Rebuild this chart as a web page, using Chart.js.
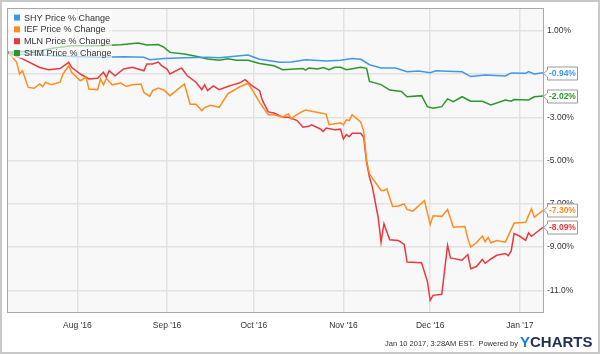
<!DOCTYPE html>
<html>
<head>
<meta charset="utf-8">
<script src="https://cdn.jsdelivr.net/npm/chart.js@4"></script>
<style>
  html, body { margin: 0; padding: 0; background: #fff; }
  canvas { display: block; }
</style>
</head>
<body>
<canvas id="chart" width="600" height="354"></canvas>
<script>
// days counted from Jul 8 2016
const xTickDays = [24, 55, 85, 116, 146, 177];
const xTickLabels = ["Aug '16", "Sep '16", "Oct '16", "Nov '16", "Dec '16", "Jan '17"];
const yTickValues = [1, -1, -3, -5, -7, -9, -11];
const yTickLabels = ['1.00%', '-1.00%', '-3.00%', '-5.00%', '-7.00%', '-9.00%', '-11.0%'];

const seriesNames = ['SHY Price % Change', 'IEF Price % Change', 'MLN Price % Change', 'SHM Price % Change'];
const seriesColors = ['#3d98ec', '#ff8c1f', '#e8393e', '#2a972a'];

const shyDays = [0, 4, 11, 18, 25, 32, 40, 47, 49, 54, 61, 69, 73, 83, 87, 94, 98, 103, 110, 115, 119, 122, 125, 129, 134, 138, 142, 146, 148, 152, 157, 160, 165, 172, 174, 179, 180, 182, 185];
const shyValues = [0, -0.08, -0.12, -0.18, -0.2, -0.22, -0.2, -0.23, -0.34, -0.28, -0.25, -0.23, -0.25, -0.12, -0.32, -0.46, -0.45, -0.34, -0.4, -0.36, -0.28, -0.32, -0.57, -0.72, -0.72, -0.89, -0.86, -0.94, -0.85, -0.87, -0.9, -1.12, -1.05, -1.09, -0.95, -0.97, -0.89, -1.0, -0.94];

const iefDays = [0, 1, 3, 4, 5, 7, 9, 11, 12, 13, 15, 18, 19, 21, 22, 25, 27, 28, 31, 32, 33, 34, 36, 39, 41, 43, 46, 47, 49, 50, 52, 54, 56, 61, 63, 65, 67, 68, 70, 73, 76, 80, 83, 85, 87, 90, 92, 95, 96, 97, 98, 99, 102, 103, 105, 110, 111, 115, 116, 117, 118, 119, 122, 123, 124, 125, 129, 130, 131, 133, 135, 137, 138, 140, 144, 146, 147, 150, 152, 154, 158, 159, 160, 162, 164, 165, 166, 167, 169, 172, 175, 177, 179, 181, 182, 185];
const iefValues = [0, -0.15, -0.46, -1.0, -0.85, -1.62, -1.66, -1.46, -1.58, -1.38, -1.5, -1.38, -1.0, -0.62, -0.92, -1.31, -1.15, -1.69, -1.72, -1.23, -1.5, -1.2, -1.5, -1.42, -1.58, -1.5, -1.46, -1.85, -2.03, -1.77, -1.65, -1.75, -2.0, -1.46, -2.4, -2.4, -2.69, -2.55, -2.45, -2.54, -1.92, -1.6, -1.43, -1.85, -2.31, -2.88, -2.88, -3.0, -2.9, -2.85, -3.08, -2.95, -2.72, -2.66, -2.72, -2.85, -3.34, -3.25, -3.35, -3.12, -3.15, -2.88, -3.23, -3.65, -5.0, -5.62, -6.38, -6.38, -6.31, -7.12, -7.1, -7.0, -7.26, -7.34, -6.85, -7.95, -7.55, -7.58, -7.26, -8.08, -8.05, -8.61, -9.0, -8.8, -8.49, -8.75, -8.55, -8.8, -8.7, -8.77, -7.89, -7.87, -7.85, -7.23, -7.62, -7.3];

const mlnDays = [0, 5, 11, 14, 18, 21, 22, 25, 28, 31, 33, 34, 35, 37, 40, 43, 47, 48, 50, 52, 53, 55, 56, 60, 62, 65, 67, 68, 69, 71, 73, 76, 78, 80, 82, 84, 87, 88, 90, 92, 95, 97, 100, 102, 104, 105, 108, 109, 110, 113, 115, 116, 117, 118, 119, 122, 123, 124, 125, 126, 128, 129, 130, 132, 135, 137, 138, 143, 145, 146, 147, 150, 152, 153, 157, 159, 160, 162, 164, 165, 167, 169, 172, 173, 174, 175, 177, 179, 180, 181, 185];
const mlnValues = [0, -0.3, -0.7, -0.8, -0.75, -0.46, -0.69, -1.0, -1.23, -1.2, -0.92, -1.15, -0.85, -1.08, -0.77, -0.69, -0.85, -0.54, -0.54, -0.45, -0.6, -0.77, -1.0, -0.72, -1.08, -1.38, -1.72, -1.5, -1.77, -1.55, -1.72, -1.58, -1.49, -1.42, -1.26, -1.5, -1.77, -2.23, -2.75, -2.8, -3.0, -3.0, -3.15, -3.46, -3.42, -3.35, -3.54, -3.65, -3.5, -3.58, -3.55, -4.0, -3.8, -3.9, -3.74, -3.74, -3.92, -5.08, -5.77, -6.23, -7.62, -8.77, -7.92, -8.66, -8.7, -8.88, -9.69, -9.72, -10.57, -11.46, -11.23, -11.18, -8.92, -9.5, -9.61, -9.34, -10.0, -9.9, -9.57, -9.75, -9.55, -9.38, -9.3, -9.4, -9.18, -8.38, -8.5, -8.69, -8.35, -8.5, -8.09];

const shmDays = [0, 11, 16, 22, 31, 39, 45, 48, 52, 54, 56, 61, 65, 69, 73, 76, 79, 83, 87, 92, 95, 102, 103, 104, 107, 109, 111, 113, 115, 117, 122, 124, 125, 129, 132, 136, 138, 143, 145, 147, 150, 152, 154, 157, 160, 164, 167, 172, 174, 175, 180, 182, 185];
const shmValues = [0, 0.08, 0.2, 0.31, 0.31, 0.35, 0.43, 0.34, 0.36, 0.23, 0.0, -0.08, -0.18, -0.31, -0.36, -0.3, -0.36, -0.36, -0.51, -0.62, -0.8, -0.75, -0.82, -0.72, -0.77, -0.7, -0.8, -0.69, -0.69, -0.8, -0.69, -0.74, -1.34, -1.49, -1.74, -1.81, -2.05, -2.0, -2.51, -2.58, -2.51, -2.15, -2.28, -2.05, -2.26, -2.26, -2.43, -2.2, -2.26, -2.18, -2.2, -2.05, -2.02];

const lastLabels = ['-0.94%', '-7.30%', '-8.09%', '-2.02%'];

const FONT = '"Liberation Sans", Arial, sans-serif';

function toPoints(days, values) {
  return days.map((d, i) => ({ x: d, y: values[i] }));
}

const allSeries = [
  toPoints(shyDays, shyValues),
  toPoints(iefDays, iefValues),
  toPoints(mlnDays, mlnValues),
  toPoints(shmDays, shmValues)
];

// plot background + frame
const framePlugin = {
  id: 'frame',
  beforeDraw(chart) {
    const { ctx, chartArea: a } = chart;
    ctx.save();
    ctx.fillStyle = '#fff';
    ctx.fillRect(0, 0, chart.width, chart.height);
    ctx.fillStyle = '#f8f8f8';
    ctx.fillRect(a.left, a.top, a.right - a.left, a.bottom - a.top);
    ctx.restore();
  },
  afterDraw(chart) {
    const { ctx, chartArea: a } = chart;
    ctx.save();
    ctx.strokeStyle = '#a8a8a8';
    ctx.lineWidth = 1;
    ctx.strokeRect(Math.round(a.left) - 0.5, Math.round(a.top) - 0.5, Math.round(a.right - a.left) + 1, Math.round(a.bottom - a.top) + 1);
    // outer border
    ctx.strokeStyle = '#c8c8c8';
    ctx.lineWidth = 2;
    ctx.strokeRect(1, 1, chart.width - 2, chart.height - 2);

    // footer
    ctx.fillStyle = '#333';
    ctx.font = '7.5px ' + FONT;
    ctx.textAlign = 'right';
    ctx.textBaseline = 'alphabetic';
    ctx.fillText('Jan 10 2017, 3:28AM EST.  Powered by', 518, 346);
    ctx.font = 'bold 15px ' + FONT;
    ctx.textAlign = 'left';
    ctx.fillStyle = '#1a7bd6';
    ctx.fillText('Y', 520, 347);
    const yw = ctx.measureText('Y').width;
    ctx.fillStyle = '#1f2f52';
    ctx.fillText('CHARTS', 520 + yw, 347);
    ctx.restore();
  }
};

// legend in upper-left of plot, and last-value flags on the right
const overlayPlugin = {
  id: 'overlay',
  afterDatasetsDraw(chart) {
    const { ctx, chartArea: a } = chart;
    ctx.save();
    ctx.fillStyle = 'rgba(255,255,255,0.6)';
    ctx.fillRect(a.left + 1, a.top + 1, 103, 48);
    ctx.font = '9px ' + FONT;
    ctx.textBaseline = 'middle';
    ctx.textAlign = 'left';
    seriesNames.forEach((name, i) => {
      const cy = a.top + 8.5 + i * 11.8;
      ctx.fillStyle = seriesColors[i];
      ctx.fillRect(a.left + 6, cy - 3, 6, 6);
      ctx.fillStyle = '#333';
      ctx.fillText(name, a.left + 16, cy + 0.5);
    });
    ctx.restore();
  },
  afterDraw(chart) {
    const { ctx, chartArea: a, scales } = chart;
    ctx.save();
    ctx.font = 'bold 8.5px ' + FONT;
    ctx.textBaseline = 'middle';
    ctx.textAlign = 'left';
    allSeries.forEach((pts, i) => {
      const last = pts[pts.length - 1];
      const y = Math.round(scales.y.getPixelForValue(last.y)) + 0.5;
      const x0 = Math.round(a.right) + 0.5;
      const bl = x0 + 4, br = x0 + 34, h = 6.5;
      ctx.beginPath();
      ctx.moveTo(x0, y);
      ctx.lineTo(bl, y - 3.5);
      ctx.lineTo(bl, y - h);
      ctx.lineTo(br, y - h);
      ctx.lineTo(br, y + h);
      ctx.lineTo(bl, y + h);
      ctx.lineTo(bl, y + 3.5);
      ctx.closePath();
      ctx.fillStyle = '#fff';
      ctx.fill();
      ctx.strokeStyle = '#999';
      ctx.lineWidth = 1;
      ctx.stroke();
      ctx.fillStyle = seriesColors[i];
      ctx.fillText(lastLabels[i], bl + 1.5, y + 0.5);
    });
    ctx.restore();
  }
};

const ctx = document.getElementById('chart').getContext('2d');
new Chart(ctx, {
  type: 'line',
  data: {
    datasets: allSeries.map((pts, i) => ({
      label: seriesNames[i],
      data: pts,
      borderColor: seriesColors[i],
      borderWidth: 1.5,
      pointRadius: 0,
      tension: 0,
      fill: false
    }))
  },
  options: {
    responsive: false,
    animation: false,
    events: [],
    layout: { padding: { left: 8, top: 8, right: 0, bottom: 0 } },
    plugins: {
      legend: { display: false },
      tooltip: { enabled: false }
    },
    scales: {
      x: {
        type: 'linear',
        min: 0,
        max: 185,
        afterBuildTicks: scale => { scale.ticks = xTickDays.map(v => ({ value: v })); },
        afterFit: scale => { scale.height = 42; },
        ticks: {
          autoSkip: false,
          maxRotation: 0,
          padding: 9,
          color: '#333',
          font: { family: FONT, size: 8.5 },
          callback: (v, i) => xTickLabels[i]
        },
        grid: { color: '#e2e2e2', lineWidth: 1.5, drawTicks: false },
        border: { display: true, color: '#a8a8a8' }
      },
      y: {
        position: 'right',
        min: -12,
        max: 2,
        afterBuildTicks: scale => { scale.ticks = yTickValues.map(v => ({ value: v })); },
        afterFit: scale => { scale.width = 57; },
        ticks: {
          autoSkip: false,
          padding: 4,
          color: '#333',
          font: { family: FONT, size: 8.5 },
          callback: (v, i) => yTickLabels[i]
        },
        grid: { color: '#e2e2e2', lineWidth: 1.5, drawTicks: false },
        border: { display: true, color: '#a8a8a8' }
      }
    }
  },
  plugins: [framePlugin, overlayPlugin]
});
</script>
</body>
</html>
